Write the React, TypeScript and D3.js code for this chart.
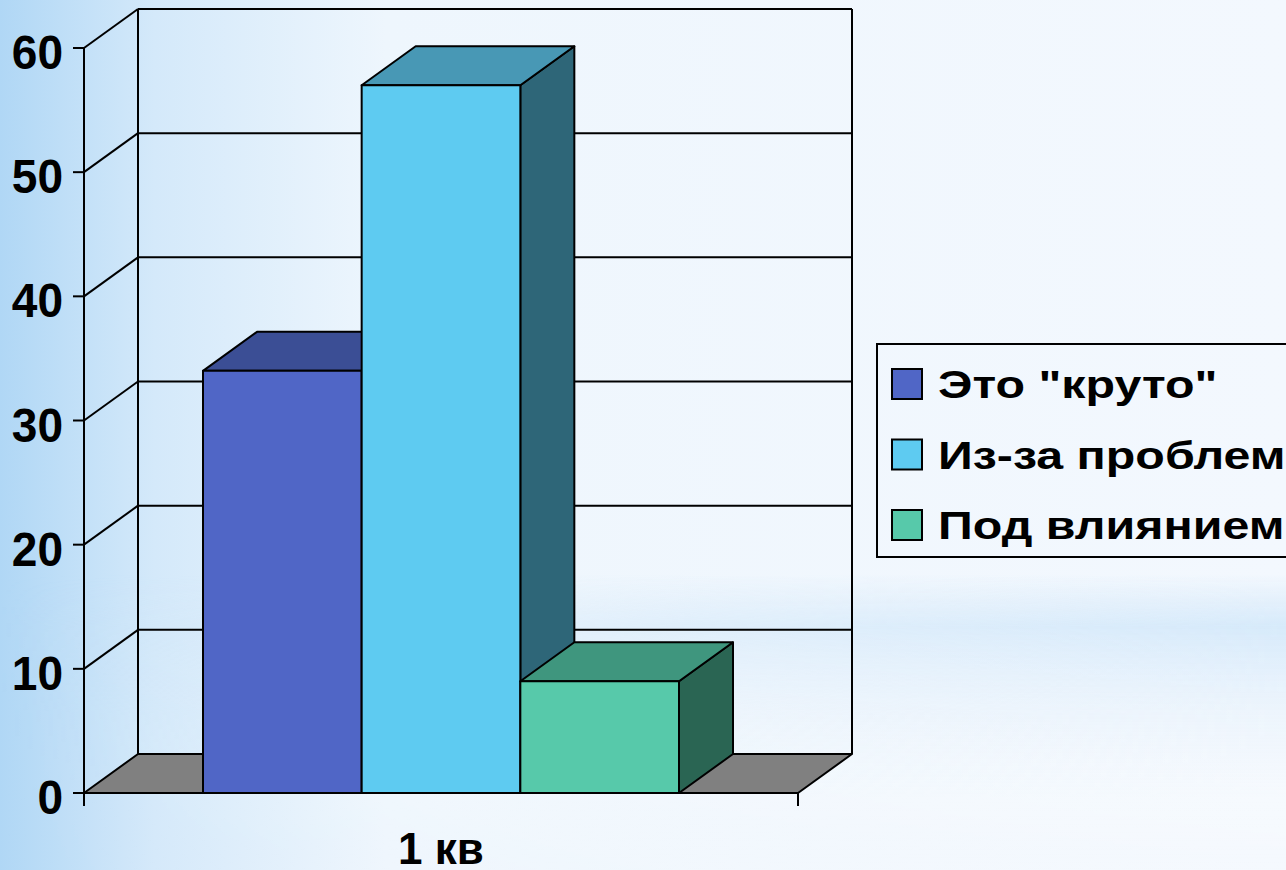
import * as d3 from 'd3';

// data
const categories = ['1 кв'];
const seriesNames = ['Это "круто"', 'Из-за проблем', 'Под влиянием'];
const seriesValues = [34, 57, 9];
const yTicks = [0, 10, 20, 30, 40, 50, 60];

// face colours: front, top, side
const frontColors = ['#5066c6', '#5ecbf1', '#57c9aa'];
const topColors = ['#3b4e95', '#4898b5', '#3f967e'];
const sideColors = ['#2d3c73', '#2e6678', '#2a6553'];

const W = 1286;
const H = 870;
const DX = 54; // depth offset
const DY = -39;
const FONT = '"Liberation Sans", Arial, sans-serif';

export default function App() {
  const y = d3.scaleLinear().domain([0, 60]).range([793, 48]);
  const x0 = d3.scaleBand<string>().domain(categories).range([84, 798]).paddingInner(0).paddingOuter(0.25);
  const x1 = d3.scaleBand<string>().domain(seriesNames).range([0, x0.bandwidth()]).padding(0);

  const [xl, xr] = x0.range();
  const y0 = y(0);
  const yTop = y(60);

  const pts = (p: [number, number][]) => p.map(d => d.join(',')).join(' ');

  return (
    <svg width={W} height={H} style={{ position: 'fixed', left: 0, top: 0 }} fontFamily={FONT}>
      <defs>
        <linearGradient id="bgH" x1="0" x2="1" y1="0" y2="0">
          <stop offset="0" stopColor="#b0d7f5" />
          <stop offset="0.12" stopColor="#d4e9fa" />
          <stop offset="0.3" stopColor="#eef6fd" />
          <stop offset="1" stopColor="#f3f8fe" />
        </linearGradient>
        <linearGradient id="band" x1="0" x2="0" y1="0" y2="1">
          <stop offset="0" stopColor="#cfe6f9" stopOpacity="0" />
          <stop offset="0.66" stopColor="#cfe6f9" stopOpacity="0" />
          <stop offset="0.72" stopColor="#cfe6f9" stopOpacity="0.8" />
          <stop offset="0.82" stopColor="#e4f0fb" stopOpacity="0.4" />
          <stop offset="0.92" stopColor="#ffffff" stopOpacity="0.3" />
          <stop offset="1" stopColor="#ffffff" stopOpacity="0.2" />
        </linearGradient>
        <linearGradient id="bandFade" x1="0" x2="1" y1="0" y2="0">
          <stop offset="0" stopColor="#fff" stopOpacity="0" />
          <stop offset="0.5" stopColor="#fff" stopOpacity="0.6" />
          <stop offset="1" stopColor="#fff" stopOpacity="1" />
        </linearGradient>
        <mask id="bandMask">
          <rect x={0} y={0} width={W} height={H} fill="url(#bandFade)" />
        </mask>
      </defs>
      <rect x={0} y={0} width={W} height={H} fill="url(#bgH)" />
      <rect x={0} y={0} width={W} height={H} fill="url(#band)" mask="url(#bandMask)" />

      {/* floor */}
      <polygon
        points={pts([[xl, y0], [xr, y0], [xr + DX, y0 + DY], [xl + DX, y0 + DY]])}
        fill="#808080"
        stroke="#000"
        strokeWidth={2}
        strokeLinejoin="round"
      />

      {/* walls & gridlines */}
      <g stroke="#000" strokeWidth={2} fill="none">
        {yTicks.filter(t => t > 0).map(t => (
          <g key={t}>
            <line x1={xl} y1={y(t)} x2={xl + DX} y2={y(t) + DY} />
            <line x1={xl + DX} y1={y(t) + DY} x2={xr + DX} y2={y(t) + DY} />
          </g>
        ))}
        <line x1={xl + DX} y1={yTop + DY} x2={xl + DX} y2={y0 + DY} />
        <line x1={xr + DX} y1={yTop + DY} x2={xr + DX} y2={y0 + DY} />
      </g>

      {/* bars */}
      {seriesNames.map((s, i) => {
        const bx = (x0(categories[0]) ?? 0) + (x1(s) ?? 0);
        const bw = x1.bandwidth();
        const ty = y(seriesValues[i]);
        return (
          <g key={s} stroke="#000" strokeWidth={2} strokeLinejoin="round">
            <polygon
              points={pts([[bx + bw, ty], [bx + bw + DX, ty + DY], [bx + bw + DX, y0 + DY], [bx + bw, y0]])}
              fill={sideColors[i]}
            />
            <polygon
              points={pts([[bx, ty], [bx + bw, ty], [bx + bw + DX, ty + DY], [bx + DX, ty + DY]])}
              fill={topColors[i]}
            />
            <rect x={bx} y={ty} width={bw} height={y0 - ty} fill={frontColors[i]} />
          </g>
        );
      })}

      {/* front axis */}
      <g stroke="#000" strokeWidth={2}>
        <line x1={xl} y1={yTop} x2={xl} y2={y0 + 13} />
        <line x1={xl} y1={y0} x2={xr} y2={y0} />
        <line x1={xr} y1={y0} x2={xr} y2={y0 + 13} />
        {yTicks.map(t => (
          <line key={t} x1={xl - 11} y1={y(t)} x2={xl} y2={y(t)} />
        ))}
      </g>
      <g fontSize={49} fontWeight="bold" textAnchor="end" fill="#000">
        {yTicks.map(t => (
          <text key={t} transform={`translate(63,${y(t) + 21}) scale(0.94,1)`}>
            {t}
          </text>
        ))}
      </g>
      <text
        x={(x0(categories[0]) ?? 0) + x0.bandwidth() / 2}
        y={864}
        fontSize={44}
        fontWeight="bold"
        textAnchor="middle"
      >
        {categories[0]}
      </text>

      {/* legend */}
      <rect x={877} y={344} width={500} height={213} fill="none" stroke="#000" strokeWidth={2} />
      {seriesNames.map((s, i) => {
        const cy = 384 + i * 70.5;
        return (
          <g key={s}>
            <rect x={892} y={cy - 15} width={30} height={30} fill={frontColors[i]} stroke="#000" strokeWidth={2} />
            <text transform={`translate(938,${cy + 14}) scale(1.24,1)`} fontSize={39} fontWeight="bold">
              {s}
            </text>
          </g>
        );
      })}
    </svg>
  );
}
